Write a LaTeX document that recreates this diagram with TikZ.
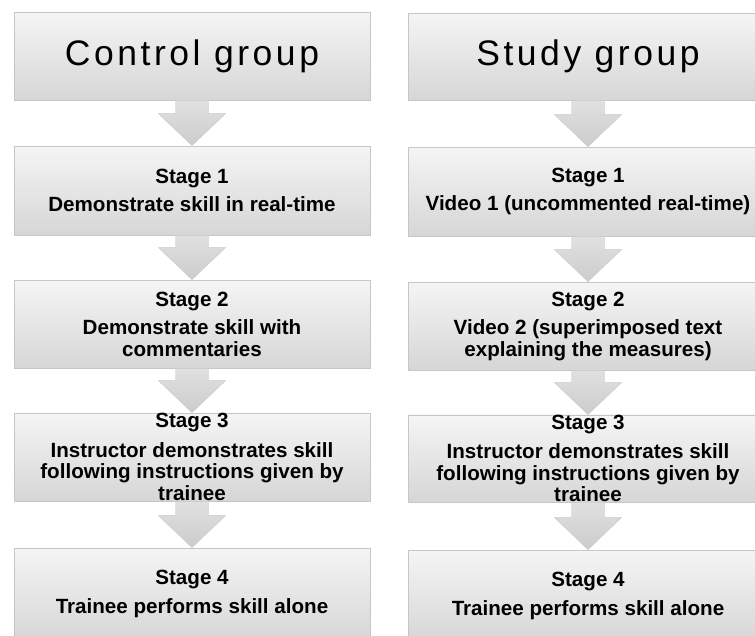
\documentclass[tikz,border=0pt]{standalone}
\usepackage{fontspec}
\setmainfont{Liberation Sans}
\newfontfamily\hdrfont[LetterSpace=10]{Liberation Sans}
\usetikzlibrary{calc}
\tikzset{
  box/.style={rectangle, draw=gray!45, line width=0.8pt, top color=gray!8, bottom color=gray!32,
              inner sep=0pt, align=center, text=black},
  lbox/.style={box, minimum width=356pt},
  rbox/.style={box, minimum width=360pt},
  hdr/.style={font=\hdrfont\fontsize{35.5}{40}\selectfont},
  stagetxt/.style={font=\bfseries\fontsize{20.6}{21.5}\selectfont},
  flowarrow/.style={top color=gray!24, bottom color=gray!40, draw=gray!42, line width=0.4pt}
}
\newcommand{\downarrowshape}[2]{%
  \path[flowarrow] ($(#1.south)+(-16.5,0)$) -- ($(#1.south)+(16.5,0)$)
    -- ($(#2.north)+(16.5,-32)$) -- ($(#2.north)+(33.5,-32)$) -- (#2.north)
    -- ($(#2.north)+(-33.5,-32)$) -- ($(#2.north)+(-16.5,-32)$) -- cycle;}
\begin{document}
\begin{tikzpicture}[x=1pt,y=-1pt]
\useasboundingbox (0,0) rectangle (755,635);
\clip (0,0) rectangle (755,635);
\fill[white] (0,0) rectangle (755,635);
% left column
\node[lbox, minimum height=88pt, hdr] (lh) at (192,56) {Control group};
\node[lbox, minimum height=89pt, stagetxt] (l1) at (192,190.5) {Stage 1\\[7pt]Demonstrate skill in real-time};
\node[lbox, minimum height=88pt, stagetxt] (l2) at (192,324) {Stage 2\\[7pt]Demonstrate skill with\\commentaries};
\node[lbox, minimum height=88pt, stagetxt] (l3) at (192,457) {Stage 3\\[8pt]Instructor demonstrates skill\\following instructions given by\\trainee};
\node[lbox, minimum height=92pt, stagetxt] (l4) at (192,594) {Stage 4\\[7pt]Trainee performs skill alone};
% right column
\node[rbox, minimum height=87pt, hdr] (rh) at (588,56.5) {Study group};
\node[rbox, minimum height=89pt, stagetxt] (r1) at (588,191.5) {Stage 1\\[7pt]Video 1 (uncommented real-time)};
\node[rbox, minimum height=88pt, stagetxt] (r2) at (588,326) {Stage 2\\[7pt]Video 2 (superimposed text\\explaining the measures)};
\node[rbox, minimum height=87pt, stagetxt] (r3) at (588,458.5) {Stage 3\\[8pt]Instructor demonstrates skill\\following instructions given by\\trainee};
\node[rbox, minimum height=92pt, stagetxt] (r4) at (588,596) {Stage 4\\[7pt]Trainee performs skill alone};
% arrows
\downarrowshape{lh}{l1}
\downarrowshape{l1}{l2}
\downarrowshape{l2}{l3}
\downarrowshape{l3}{l4}
\downarrowshape{rh}{r1}
\downarrowshape{r1}{r2}
\downarrowshape{r2}{r3}
\downarrowshape{r3}{r4}
\end{tikzpicture}
\end{document}
